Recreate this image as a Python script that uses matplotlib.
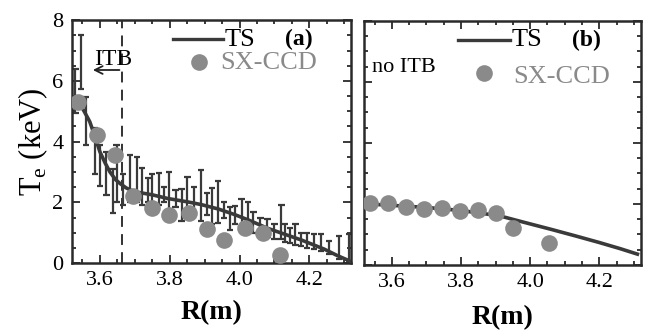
import numpy as np
import matplotlib
matplotlib.use('Agg')
import matplotlib.pyplot as plt
from matplotlib.ticker import MultipleLocator

# ---- data ----
# panel (a): Thomson scattering profile with ITB
ts_a_r = [3.520, 3.536, 3.555, 3.571, 3.585, 3.600, 3.615, 3.629, 3.645, 3.658,
          3.675, 3.696, 3.750, 3.794, 3.850, 3.890, 3.940, 3.986, 4.030, 4.080,
          4.130, 4.180, 4.243, 4.280, 4.320]
ts_a_te = [5.45, 5.38, 5.00, 4.66, 4.20, 3.67, 3.30, 3.00, 2.75, 2.62,
           2.48, 2.36, 2.25, 2.13, 2.02, 1.93, 1.78, 1.60, 1.40, 1.15,
           0.95, 0.75, 0.46, 0.25, 0.05]

# TS error bars (bottom / top ends)
err_r = [3.530, 3.547, 3.561, 3.586, 3.600, 3.619, 3.637, 3.648, 3.666, 3.687,
         3.706, 3.721, 3.737, 3.750, 3.769, 3.783, 3.798, 3.817, 3.834, 3.851,
         3.870, 3.890, 3.906, 3.922, 3.938, 3.956, 3.972, 3.987, 4.006, 4.025,
         4.040, 4.060, 4.080, 4.100, 4.120, 4.131, 4.145, 4.160, 4.177, 4.194,
         4.214, 4.234, 4.257, 4.286, 4.315]
err_lo = [4.95, 5.75, 3.90, 2.92, 2.55, 2.26, 1.65, 2.00, 1.93, 2.00,
          2.00, 1.90, 2.00, 2.00, 1.90, 2.00, 1.65, 1.85, 1.38, 1.60,
          1.70, 1.40, 1.60, 1.30, 1.32, 1.50, 1.10, 1.30, 1.10, 1.20,
          1.00, 1.00, 0.85, 0.80, 0.78, 0.70, 0.65, 0.60, 0.55, 0.50,
          0.45, 0.40, 0.30, 0.15, 0.05]
err_hi = [6.40, 7.50, 5.47, 4.44, 3.90, 3.67, 3.10, 3.90, 2.92, 3.57,
          3.50, 3.12, 2.80, 2.95, 2.96, 2.50, 3.00, 2.42, 2.45, 2.85,
          2.52, 3.07, 2.30, 2.47, 2.70, 2.00, 1.85, 1.87, 2.10, 2.00,
          1.70, 1.50, 1.45, 1.30, 1.90, 1.28, 1.15, 1.28, 1.00, 1.00,
          0.95, 0.95, 0.72, 0.89, 0.95]

# SX-CCD, panel (a)
sx_a_r = [3.536, 3.592, 3.643, 3.696, 3.750, 3.797, 3.855, 3.907, 3.955,
          4.015, 4.066, 4.116]
sx_a_te = [5.31, 4.23, 3.57, 2.20, 1.80, 1.60, 1.64, 1.11, 0.75, 1.15, 0.98, 0.28]

# panel (b): no ITB
ts_b_r = [3.520, 3.600, 3.700, 3.800, 3.910, 3.980, 4.058, 4.130, 4.200, 4.260, 4.310]
ts_b_te = [2.00, 1.95, 1.88, 1.78, 1.61, 1.40, 1.17, 0.95, 0.73, 0.53, 0.35]

sx_b_r = [3.536, 3.589, 3.641, 3.693, 3.746, 3.798, 3.849, 3.901, 3.949, 4.055]
sx_b_te = [2.02, 2.02, 1.91, 1.83, 1.86, 1.75, 1.80, 1.70, 1.21, 0.71]

itb_r = 3.664

# ---- style ----
plt.rcParams['font.family'] = ['Liberation Serif', 'DejaVu Serif']
line_col = '#3a3a3a'
dot_col = '#8a8a8a'
spine_col = '#2a2a2a'

fig = plt.figure(figsize=(6.48, 3.31), dpi=100)
ax_a = fig.add_axes([0.111, 0.205, 0.431, 0.734])
ax_b = fig.add_axes([0.562, 0.200, 0.427, 0.737])


def style_axes(ax, show_y):
  ax.set_xlim(3.52, 4.32)
  ax.set_ylim(0, 8)
  ax.xaxis.set_major_locator(MultipleLocator(0.2))
  ax.xaxis.set_minor_locator(MultipleLocator(0.05))
  ax.yaxis.set_major_locator(MultipleLocator(2))
  ax.yaxis.set_minor_locator(MultipleLocator(0.5))
  ax.tick_params(which='both', direction='in', top=True, right=True,
                 color=spine_col, width=1.3)
  ax.tick_params(which='major', length=6, labelsize=16, pad=6)
  ax.tick_params(which='minor', length=3)
  ax.xaxis.set_major_formatter(matplotlib.ticker.FormatStrFormatter('%.1f'))
  if not show_y:
    ax.tick_params(labelleft=False)
  for s in ax.spines.values():
    s.set_linewidth(1.8)
    s.set_color(spine_col)


# panel (a)
ax = ax_a
style_axes(ax, True)
cap = 0.009
ax.vlines(err_r, err_lo, err_hi, color=line_col, lw=1.6, zorder=2)
ax.hlines(err_lo, np.array(err_r) - cap, np.array(err_r) + cap, color=line_col, lw=1.6, zorder=2)
ax.hlines(err_hi, np.array(err_r) - cap, np.array(err_r) + cap, color=line_col, lw=1.6, zorder=2)
ax.plot(ts_a_r, ts_a_te, color=line_col, lw=2.6, zorder=3)
ax.plot(sx_a_r, sx_a_te, 'o', color=dot_col, ms=12, mec='none', zorder=4)
ax.axvline(itb_r, color='#222222', lw=1.3, ls=(0, (6, 4)), zorder=1)
ax.annotate('', xy=(3.572, 6.36), xytext=(itb_r, 6.36),
            arrowprops=dict(arrowstyle='->', color='#222222', lw=1.3,
                            mutation_scale=14))
ax.text(3.583, 6.72, 'ITB', fontsize=17, va='center', ha='left')
ax.set_ylabel(r'T$_{\mathregular{e}}$ (keV)', fontsize=22, labelpad=2)
ax.set_xlabel('R(m)', fontsize=20, fontweight='bold', labelpad=7)
# legend drawn by hand
ax.plot([0.362, 0.541], [0.922, 0.922], color=line_col, lw=2.4, transform=ax.transAxes)
ax.text(0.548, 0.92, 'TS', fontsize=19, va='center', transform=ax.transAxes)
ax.text(0.763, 0.92, '(a)', fontsize=17, fontweight='bold', va='center', transform=ax.transAxes)
ax.plot([0.455], [0.827], 'o', color=dot_col, ms=12, mec='none', transform=ax.transAxes)
ax.text(0.53, 0.825, 'SX-CCD', fontsize=19, color=dot_col, va='center', transform=ax.transAxes)

# panel (b)
ax = ax_b
style_axes(ax, False)
ax.plot(ts_b_r, ts_b_te, color=line_col, lw=2.6, zorder=3)
ax.plot(sx_b_r, sx_b_te, 'o', color=dot_col, ms=12, mec='none', zorder=4)
ax.set_xlabel('R(m)', fontsize=20, fontweight='bold', labelpad=9)
ax.text(0.029, 0.81, 'no ITB', fontsize=16, va='center', transform=ax.transAxes)
ax.plot([0.339, 0.527], [0.922, 0.922], color=line_col, lw=2.4, transform=ax.transAxes)
ax.text(0.534, 0.92, 'TS', fontsize=19, va='center', transform=ax.transAxes)
ax.text(0.751, 0.92, '(b)', fontsize=17, fontweight='bold', va='center', transform=ax.transAxes)
ax.plot([0.433], [0.787], 'o', color=dot_col, ms=12, mec='none', transform=ax.transAxes)
ax.text(0.538, 0.77, 'SX-CCD', fontsize=19, color=dot_col, va='center', transform=ax.transAxes)

fig.savefig('out.png', dpi=100)
